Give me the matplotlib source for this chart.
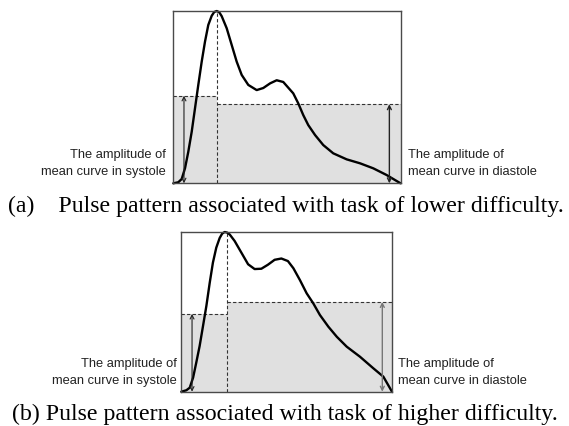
import matplotlib
matplotlib.use('Agg')
import matplotlib.pyplot as plt

W, H = 569, 426

# --- panel (a): lower difficulty (normalised 0..1 inside the box) ---
a_x = [0, 0.022, 0.037, 0.0515, 0.066, 0.081, 0.0955, 0.110, 0.125, 0.1395,
       0.154, 0.169, 0.180, 0.191, 0.202, 0.213, 0.235, 0.257, 0.279, 0.301,
       0.330, 0.367, 0.396, 0.426, 0.455, 0.484, 0.528, 0.550, 0.572, 0.594,
       0.624, 0.660, 0.704, 0.763, 0.822, 0.880, 0.939, 1.0]
a_y = [0, 0.006, 0.025, 0.087, 0.183, 0.299, 0.435, 0.571, 0.706, 0.822,
       0.919, 0.972, 0.994, 1.0, 0.993, 0.970, 0.900, 0.803, 0.706, 0.629,
       0.571, 0.541, 0.553, 0.580, 0.598, 0.588, 0.522, 0.464, 0.396, 0.338,
       0.280, 0.222, 0.174, 0.139, 0.116, 0.087, 0.048, 0.0]
a_peak_x = 0.191
a_sys_level = 0.508
a_dia_level = 0.459
a_arrow_x = [0.047, 0.951]

# --- panel (b): higher difficulty ---
b_x = [0, 0.024, 0.040, 0.056, 0.071, 0.087, 0.103, 0.119, 0.135, 0.150,
       0.166, 0.182, 0.194, 0.206, 0.218, 0.230, 0.253, 0.285, 0.317, 0.348,
       0.380, 0.411, 0.443, 0.475, 0.506, 0.532, 0.563, 0.595, 0.626, 0.658,
       0.698, 0.738, 0.785, 0.848, 0.911, 0.959, 1.0]
b_y = [0, 0.009, 0.025, 0.088, 0.182, 0.286, 0.411, 0.537, 0.683, 0.808,
       0.902, 0.962, 0.990, 1.0, 0.996, 0.984, 0.944, 0.871, 0.798, 0.768,
       0.770, 0.795, 0.826, 0.834, 0.818, 0.773, 0.699, 0.616, 0.554, 0.480,
       0.407, 0.344, 0.282, 0.219, 0.147, 0.094, 0.0]
b_peak_x = 0.217
b_sys_level = 0.487
b_dia_level = 0.562
b_arrow_x = [0.051, 0.954]

label_sys = ["The amplitude of", "mean curve in systole"]
label_dia = ["The amplitude of", "mean curve in diastole"]
cap_a = "(a)    Pulse pattern associated with task of lower difficulty."
cap_b = "(b) Pulse pattern associated with task of higher difficulty."


def px(x, y):
    return x / W, 1 - y / H


def draw_panel(ax, xs, ys, peak_x, sys_lv, dia_lv, arrow_x, right_col):
    ax.set_xlim(0, 1)
    ax.set_ylim(0, 1)
    ax.set_xticks([])
    ax.set_yticks([])
    for s in ax.spines.values():
        s.set_color('#4a4a4a')
        s.set_linewidth(1.0)
    # zonas sombreadas (amplitude media)
    ax.fill_between([0, peak_x], 0, sys_lv, color='#e0e0e0', lw=0)
    ax.fill_between([peak_x, 1], 0, dia_lv, color='#e0e0e0', lw=0)
    ax.plot([0, peak_x], [sys_lv, sys_lv], ls=(0, (3, 2)), color='#333333', lw=0.8)
    ax.plot([peak_x, 1], [dia_lv, dia_lv], ls=(0, (3, 2)), color='#333333', lw=0.8)
    ax.plot([peak_x, peak_x], [0, 1], ls=(0, (3, 2)), color='#333333', lw=0.8)
    ax.annotate('', xy=(arrow_x[0], sys_lv), xytext=(arrow_x[0], 0),
                arrowprops=dict(arrowstyle='<->', color='#222222', lw=0.8,
                                shrinkA=0, shrinkB=0, mutation_scale=7))
    ax.annotate('', xy=(arrow_x[1], dia_lv), xytext=(arrow_x[1], 0),
                arrowprops=dict(arrowstyle='<->', color=right_col, lw=1.0,
                                shrinkA=0, shrinkB=0, mutation_scale=7))
    ax.plot(xs, ys, color='black', lw=1.7, clip_on=False,
            solid_joinstyle='round', solid_capstyle='round')


fig = plt.figure(figsize=(W / 100, H / 100), dpi=100)

# caixas em pixels (left, top, right, bottom)
l, t, r, b = 173.3, 11, 400.5, 183.3
ax1 = fig.add_axes([l / W, 1 - b / H, (r - l) / W, (b - t) / H])
draw_panel(ax1, a_x, a_y, a_peak_x, a_sys_level, a_dia_level, a_arrow_x, '#222222')

l, t, r, b = 181.3, 232, 392, 391.7
ax2 = fig.add_axes([l / W, 1 - b / H, (r - l) / W, (b - t) / H])
draw_panel(ax2, b_x, b_y, b_peak_x, b_sys_level, b_dia_level, b_arrow_x, '#777777')

small = dict(family='Liberation Sans', fontsize=9.3, color='#222222', va='baseline')

fig.text(*px(166, 158), label_sys[0], ha='right', **small)
fig.text(*px(166, 175), label_sys[1], ha='right', **small)
fig.text(*px(408, 158), label_dia[0], ha='left', **small)
fig.text(*px(408, 175), label_dia[1], ha='left', **small)

fig.text(*px(177, 367), label_sys[0], ha='right', **small)
fig.text(*px(177, 384), label_sys[1], ha='right', **small)
fig.text(*px(398, 367), label_dia[0], ha='left', **small)
fig.text(*px(398, 384), label_dia[1], ha='left', **small)

cap = dict(family='Liberation Serif', fontsize=17.2, color='black', va='baseline')
fig.text(*px(8, 212), cap_a, ha='left', **cap)
fig.text(*px(12, 420), cap_b, ha='left', **cap)

fig.savefig('out.png', dpi=100)
plt.close(fig)
